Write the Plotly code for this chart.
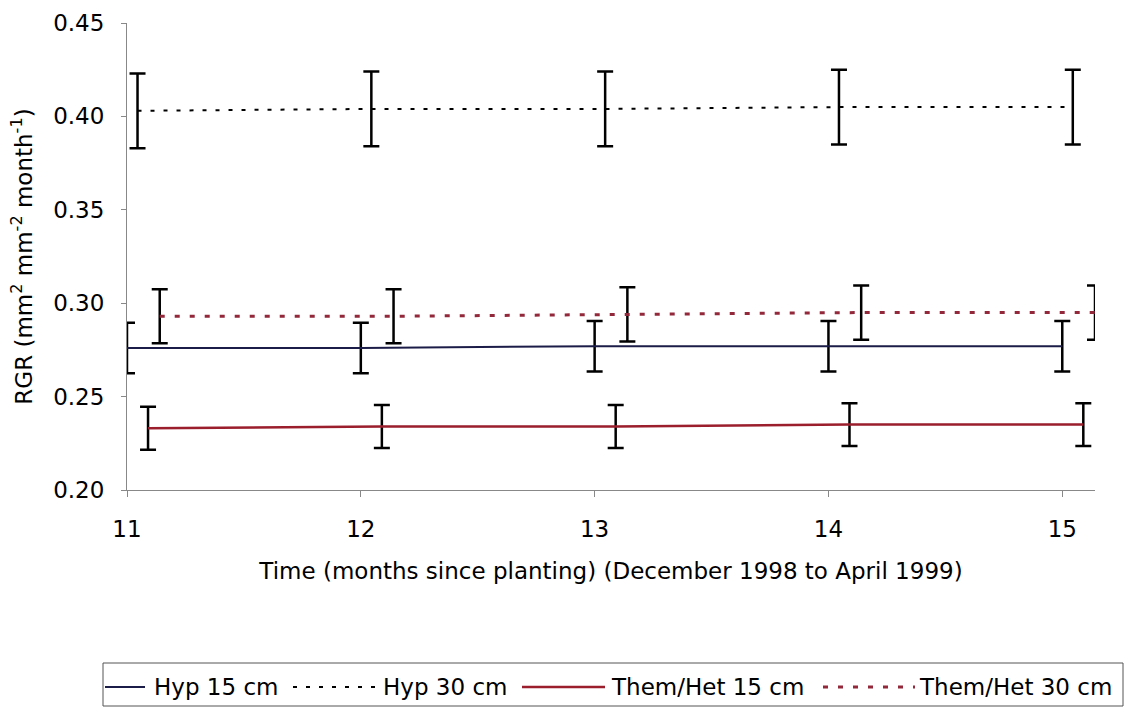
import plotly.graph_objects as go

# ---------------- data ----------------
months = [11, 12, 13, 14, 15]

hyp15 = [0.276, 0.276, 0.277, 0.277, 0.277]
hyp15_err = [0.0135, 0.0135, 0.0135, 0.0135, 0.0135]

hyp30 = [0.403, 0.404, 0.404, 0.405, 0.405]
hyp30_err = [0.020, 0.020, 0.020, 0.020, 0.020]

them15 = [0.233, 0.234, 0.234, 0.235, 0.235]
them15_err = [0.0115, 0.0115, 0.0115, 0.0115, 0.0115]

them30 = [0.293, 0.293, 0.294, 0.295, 0.295]
them30_err = [0.0145, 0.0145, 0.0145, 0.0145, 0.0145]

series_names = ["Hyp 15 cm", "Hyp 30 cm", "Them/Het 15 cm", "Them/Het 30 cm"]
x_title = "Time (months since planting) (December 1998 to April 1999)"
y_title = "RGR (mm<sup>2</sup> mm<sup>-2</sup> month<sup>-1</sup>)"
y_ticks = [0.20, 0.25, 0.30, 0.35, 0.40, 0.45]

# ---------------- styles ----------------
FONT = "DejaVu Sans"
FS = 23
NAVY = "#1c1c48"
RED = "#9b1e2c"
RED_DOT = "#93283a"

styles = [
    dict(color=NAVY, width=2, dash="solid", dodge=0.0),
    dict(color="#000000", width=2, dash="4px,9px", dodge=0.045),
    dict(color=RED, width=2.5, dash="solid", dodge=0.09),
    dict(color=RED_DOT, width=3, dash="5px,10px", dodge=0.14),
]
values = [hyp15, hyp30, them15, them30]
errors = [hyp15_err, hyp30_err, them15_err, them30_err]

fig = go.Figure()
for name, vals, errs, st in zip(series_names, values, errors, styles):
    fig.add_trace(go.Scatter(
        x=[m + st["dodge"] for m in months],
        y=vals,
        mode="lines",
        name=name,
        line=dict(color=st["color"], width=st["width"], dash=st["dash"]),
        error_y=dict(type="data", array=errs, visible=True,
                     color="#000000", thickness=2.5, width=8),
        showlegend=False,
    ))

# layout geometry (pixels)
W, H = 1127, 709
L, R, T, B = 127, 32, 23, 219
PW = W - L - R
PH = H - T - B


def px(xpix):
    return (xpix - L) / PW


def py(ypix):
    return (H - B - ypix) / PH


# ---------------- custom legend (Excel-like) ----------------
shapes = [dict(type="rect", xref="paper", yref="paper",
               x0=px(103), x1=px(1123), y0=py(706), y1=py(663),
               line=dict(color="#555555", width=1), fillcolor="rgba(0,0,0,0)")]
annotations = []
legend_items = [
    (105, 145, 153),
    (293, 377, 382),
    (522, 605, 610),
    (823, 915, 918),
]
ly = 687
for (s0, s1, tx), name, st in zip(legend_items, series_names, styles):
    shapes.append(dict(type="line", xref="paper", yref="paper",
                       x0=px(s0), x1=px(s1), y0=py(ly), y1=py(ly),
                       line=dict(color=st["color"], width=st["width"], dash=st["dash"])))
    annotations.append(dict(xref="paper", yref="paper", x=px(tx), y=py(ly),
                            xanchor="left", yanchor="middle", showarrow=False,
                            text=name, font=dict(family=FONT, size=FS, color="#000000"),
                            borderpad=0))

fig.update_layout(
    width=W, height=H,
    margin=dict(l=L, r=R, t=T, b=B, autoexpand=False),
    paper_bgcolor="white", plot_bgcolor="white",
    font=dict(family=FONT, size=FS, color="#000000"),
    shapes=shapes,
    annotations=annotations,
    showlegend=False,
)

fig.update_xaxes(
    range=[11, 15.14],
    tickvals=months, ticktext=[str(m) for m in months],
    showgrid=False, zeroline=False,
    showline=True, linecolor="#888888", linewidth=1,
    ticks="outside", ticklen=6, tickcolor="#888888",
    ticklabelstandoff=12,
    title=dict(text=x_title, standoff=22, font=dict(family=FONT, size=FS)),
    automargin=False,
)
fig.update_yaxes(
    range=[0.20, 0.45],
    tickvals=y_ticks, ticktext=[f"{v:.2f}" for v in y_ticks],
    showgrid=False, zeroline=False,
    showline=True, linecolor="#888888", linewidth=1,
    ticks="outside", ticklen=5, tickcolor="#888888",
    ticklabelstandoff=12,
    title=dict(text=y_title, standoff=14, font=dict(family=FONT, size=FS)),
    automargin=False,
)

fig.write_html("out.html")
